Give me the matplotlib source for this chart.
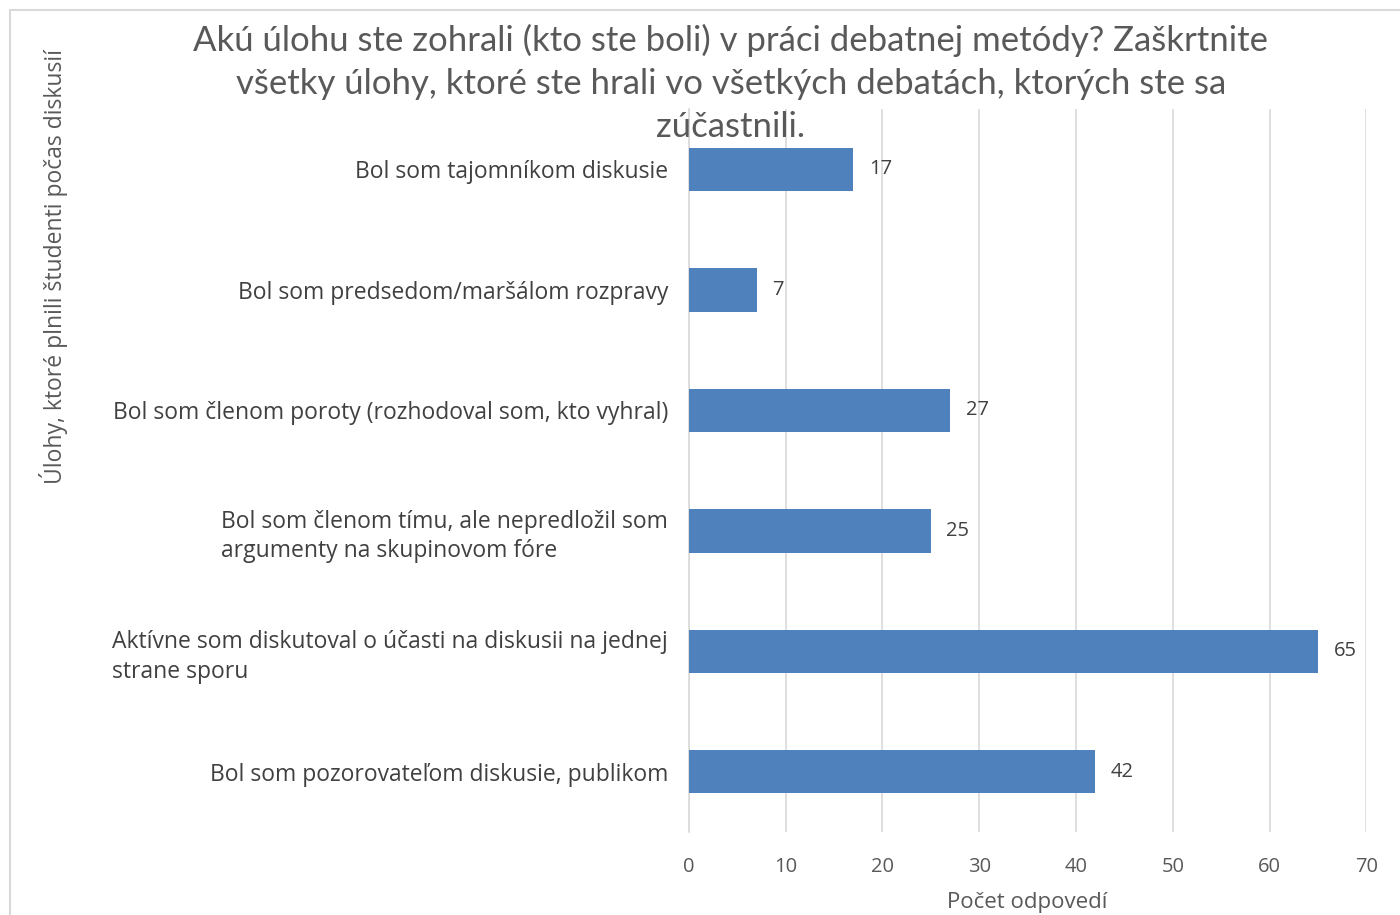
import matplotlib.pyplot as plt
from matplotlib.patches import Rectangle

plt.rcParams['font.family'] = ['Open Sans', 'DejaVu Sans']

categories = [
    'Bol som tajomníkom diskusie',
    'Bol som predsedom/maršálom rozpravy',
    'Bol som členom poroty (rozhodoval som, kto vyhral)',
    'Bol som členom tímu, ale nepredložil som\nargumenty na skupinovom fóre',
    'Aktívne som diskutoval o účasti na diskusii na jednej\nstrane sporu',
    'Bol som pozorovateľom diskusie, publikom',
]
values = [17, 7, 27, 25, 65, 42]
xticks = [0, 10, 20, 30, 40, 50, 60, 70]

title = ('Akú úlohu ste zohrali (kto ste boli) v práci debatnej metódy? Zaškrtnite\n'
         'všetky úlohy, ktoré ste hrali vo všetkých debatách, ktorých ste sa\n'
         'zúčastnili.')

fig = plt.figure(figsize=(14, 9.15), dpi=100)
ax = fig.add_axes([0.492, 0.0907, 0.484, 0.790])

ypos = list(range(len(categories)))
ax.barh(ypos, values, height=0.36, color='#4F81BD', zorder=3)
ax.set_ylim(len(categories) - 0.5, -0.5)
ax.set_xlim(0, 70)

for y, v in zip(ypos, values):
    ax.text(v + 1.6, y, str(v), va='center', ha='left', fontsize=14.5, color='#404040')

ax.set_yticks(ypos)
ax.set_yticklabels(categories, fontsize=16.5, color='#404040', multialignment='left',
                   linespacing=1.3)
ax.tick_params(axis='y', length=0, pad=15)
ax.set_xticks(xticks)
ax.tick_params(axis='x', length=0, pad=18, labelsize=14.5, labelcolor='#595959')
ax.grid(axis='x', color='#d9d9d9', linewidth=1.2, zorder=0)

for s in ['top', 'right', 'bottom']:
    ax.spines[s].set_visible(False)
ax.spines['left'].set_color('#d9d9d9')
ax.spines['left'].set_linewidth(1.2)

ax.set_xlabel('Počet odpovedí', fontsize=16, color='#595959', labelpad=11)

fig.text(0.522, 0.974, title, ha='center', va='top', fontsize=25, color='#595959',
         linespacing=1.42, family=['Lato', 'DejaVu Sans'])
fig.text(0.038, 0.709, 'Úlohy, ktoré plnili študenti počas diskusií', rotation=90,
         ha='center', va='center', fontsize=16.5, color='#595959')

fig.patches.append(Rectangle((0.007, -0.01), 1.1, 0.999, transform=fig.transFigure,
                             fill=False, edgecolor='#d9d9d9', linewidth=1.5))

fig.savefig('out.png', dpi=100)
